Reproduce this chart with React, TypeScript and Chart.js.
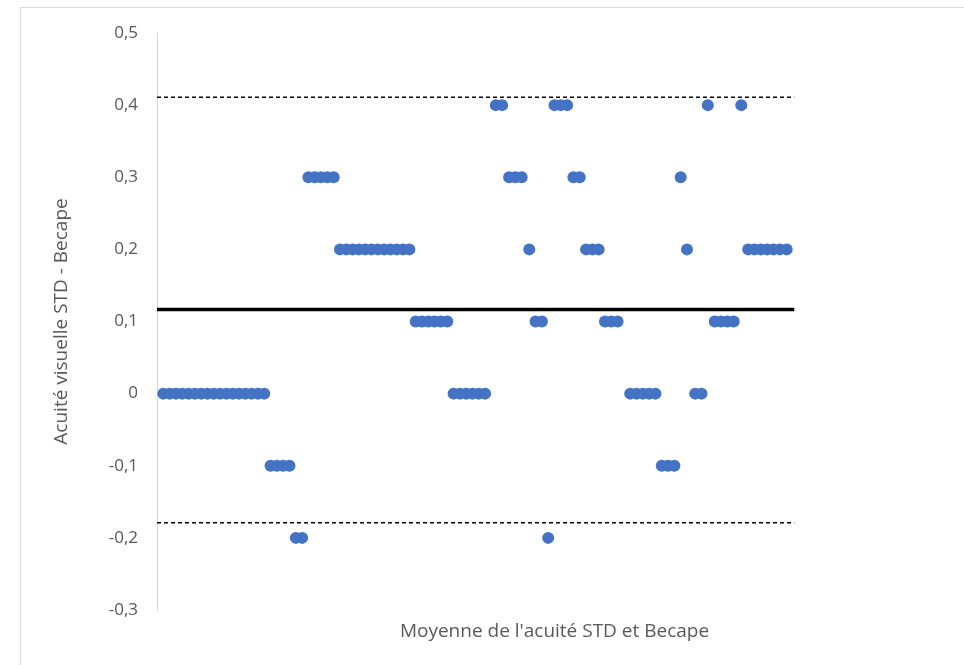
import React, { useEffect, useRef } from "react";
import { Chart, registerables } from "chart.js";

Chart.register(...registerables);

// Observation index (position along the horizontal axis)
const xValues: number[] = [
  1, 2, 3, 4, 5, 6, 7, 8, 9, 10, 11, 12, 13, 14, 15, 16, 17,
  18, 19, 20, 21,
  22, 23,
  24, 25, 26, 27, 28,
  29, 30, 31, 32, 33, 34, 35, 36, 37, 38, 39, 40,
  41, 42, 43, 44, 45, 46,
  47, 48, 49, 50, 51, 52,
  53.7, 54.7,
  55.8, 56.8, 57.8,
  59,
  60, 61,
  62,
  63, 64, 65,
  66, 67,
  68, 69, 70,
  71, 72, 73,
  75, 76, 77, 78, 79,
  80, 81, 82,
  83,
  84,
  85.3, 86.3,
  87.3,
  88.4, 89.4, 90.4, 91.4,
  92.6,
  93.7, 94.7, 95.7, 96.7, 97.7, 98.7, 99.8,
];

// Difference STD - Becape
const diffValues: number[] = [
  0, 0, 0, 0, 0, 0, 0, 0, 0, 0, 0, 0, 0, 0, 0, 0, 0,
  -0.1, -0.1, -0.1, -0.1,
  -0.2, -0.2,
  0.3, 0.3, 0.3, 0.3, 0.3,
  0.2, 0.2, 0.2, 0.2, 0.2, 0.2, 0.2, 0.2, 0.2, 0.2, 0.2, 0.2,
  0.1, 0.1, 0.1, 0.1, 0.1, 0.1,
  0, 0, 0, 0, 0, 0,
  0.4, 0.4,
  0.3, 0.3, 0.3,
  0.2,
  0.1, 0.1,
  -0.2,
  0.4, 0.4, 0.4,
  0.3, 0.3,
  0.2, 0.2, 0.2,
  0.1, 0.1, 0.1,
  0, 0, 0, 0, 0,
  -0.1, -0.1, -0.1,
  0.3,
  0.2,
  0, 0,
  0.4,
  0.1, 0.1, 0.1, 0.1,
  0.4,
  0.2, 0.2, 0.2, 0.2, 0.2, 0.2, 0.2,
];

const meanDiff = 0.1165;
const upperLimit = 0.411;
const lowerLimit = -0.179;
const lineStartX = 0;
const lineEndX = 101;

const yTicksMin = -0.3;
const yTicksMax = 0.5;
const yTickStep = 0.1;

const xAxisTitle = "Moyenne de l'acuité STD et Becape";
const yAxisTitle = "Acuité visuelle STD - Becape";

const FONT = "'Open Sans', 'Noto Sans', sans-serif";

const frame = {
  id: "frame",
  beforeDraw(chart: any) {
    const ctx = chart.ctx;
    ctx.save();
    ctx.fillStyle = "#ffffff";
    ctx.fillRect(0, 0, chart.width, chart.height);
    ctx.strokeStyle = "#d9d9d9";
    ctx.lineWidth = 1;
    ctx.strokeRect(20.5, 7.5, 1200, 1200);
    ctx.restore();
  },
};

export default function App() {
  const ref = useRef<HTMLCanvasElement | null>(null);

  useEffect(() => {
    if (!ref.current) return;
    const points = xValues.map((x, i) => ({ x, y: diffValues[i] }));
    const chart = new Chart(ref.current, {
      type: "scatter",
      data: {
        datasets: [
          {
            label: "Différences",
            data: points,
            backgroundColor: "#4472C4",
            borderColor: "#4472C4",
            borderWidth: 0,
            pointRadius: 6,
            pointHoverRadius: 6,
            order: 0,
          },
          {
            label: "Moyenne",
            data: [
              { x: lineStartX, y: meanDiff },
              { x: lineEndX, y: meanDiff },
            ],
            showLine: true,
            borderColor: "#000000",
            borderWidth: 3.5,
            pointRadius: 0,
            order: 1,
          },
          {
            label: "Limite haute",
            data: [
              { x: lineStartX, y: upperLimit },
              { x: lineEndX, y: upperLimit },
            ],
            showLine: true,
            borderColor: "#000000",
            borderWidth: 1.5,
            borderDash: [4, 3],
            pointRadius: 0,
            order: 2,
          },
          {
            label: "Limite basse",
            data: [
              { x: lineStartX, y: lowerLimit },
              { x: lineEndX, y: lowerLimit },
            ],
            showLine: true,
            borderColor: "#000000",
            borderWidth: 1.5,
            borderDash: [4, 3],
            pointRadius: 0,
            order: 3,
          },
        ],
      },
      options: {
        animation: false,
        responsive: false,
        layout: { padding: { left: 0, right: 12, top: 33, bottom: 0 } },
        plugins: {
          legend: { display: false },
          tooltip: { enabled: false },
        },
        scales: {
          x: {
            type: "linear",
            min: 0,
            max: 126,
            grid: { display: false },
            border: { display: false },
            ticks: { display: false },
            title: {
              display: true,
              text: xAxisTitle,
              color: "#595959",
              font: { family: FONT, size: 19 },
              padding: { top: 0, bottom: 21.6 },
            },
            afterFit: (scale: any) => {
              scale.height = 55;
            },
          },
          y: {
            type: "linear",
            min: yTicksMin,
            max: yTicksMax,
            grid: { display: false },
            border: { display: true, color: "#d9d9d9", width: 1 },
            ticks: {
              stepSize: yTickStep,
              color: "#595959",
              padding: 11,
              font: { family: FONT, size: 17 },
              callback: (v: any) => {
                const r = Math.round(Number(v) * 10) / 10;
                return String(r).replace(".", ",");
              },
            },
            title: {
              display: true,
              text: yAxisTitle,
              color: "#595959",
              font: { family: FONT, size: 19 },
              padding: { top: 50.6, bottom: 0 },
            },
            afterFit: (scale: any) => {
              scale.width = 157;
            },
          },
        },
      },
      plugins: [frame],
    });
    return () => chart.destroy();
  }, []);

  return (
    <div style={{ position: "fixed", left: 0, top: 0, width: 964, height: 665, background: "#fff" }}>
      <canvas ref={ref} width={964} height={665} style={{ width: 964, height: 665 }} />
    </div>
  );
}
